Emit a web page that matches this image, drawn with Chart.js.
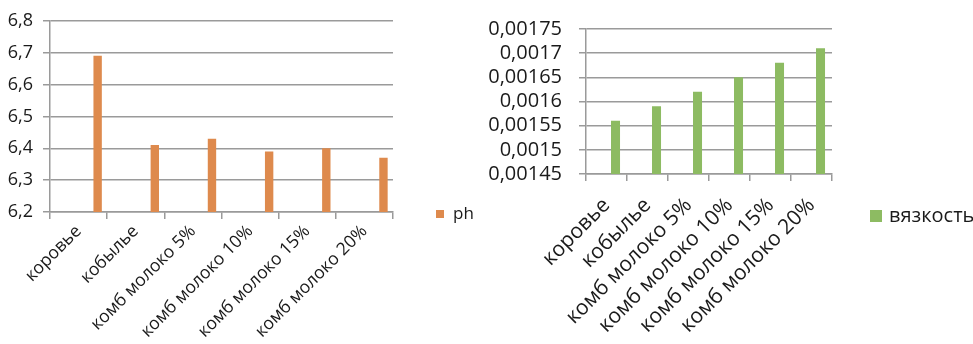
<!DOCTYPE html>
<html>
<head>
<meta charset="utf-8">
<script src="https://cdn.jsdelivr.net/npm/chart.js@4"></script>
<style>
  html, body { margin: 0; padding: 0; background: #fff; }
  #wrap { position: relative; width: 973px; height: 344px; overflow: hidden; }
  .box { position: absolute; top: 0; }
  #phBox { left: 0; width: 480px; height: 380px; }
  #viscBox { left: 480px; width: 493px; height: 344px; }
</style>
</head>
<body>
<div id="wrap">
  <div class="box" id="phBox"><canvas id="phChart"></canvas></div>
  <div class="box" id="viscBox"><canvas id="viscChart"></canvas></div>
</div>
<script>
const categories = ['коровье', 'кобылье', 'комб молоко 5%', 'комб молоко 10%', 'комб молоко 15%', 'комб молоко 20%'];
const phValues = [6.69, 6.41, 6.43, 6.39, 6.40, 6.37];
const viscosityValues = [0.00156, 0.00159, 0.00162, 0.00165, 0.00168, 0.00171];
const phTicks = [6.2, 6.3, 6.4, 6.5, 6.6, 6.7, 6.8];
const viscosityTicks = [0.00145, 0.0015, 0.00155, 0.0016, 0.00165, 0.0017, 0.00175];
// empty series, only there so the real bars sit to the right of each category like in Excel
const spacer = [null, null, null, null, null, null];

const gridColor = '#9a9a9a';
const textColor = '#1a1a1a';
Chart.defaults.font.family = "'Open Sans', sans-serif";
Chart.defaults.color = textColor;

// comma as decimal separator, no trailing zeros
function fmt(v) {
    return String(parseFloat(v.toFixed(6))).replace('.', ',');
}

// legend block to the right, below the middle (as in the original)
const sideLegend = {
    id: 'sideLegend',
    afterDraw(chart, args, opts) {
        const ds = chart.data.datasets[opts.datasetIndex];
        const { ctx, chartArea } = chart;
        const x = chartArea.right + opts.dx;
        const y = chartArea.bottom + opts.dy;
        ctx.save();
        ctx.fillStyle = ds.backgroundColor;
        ctx.fillRect(x, y - opts.box / 2, opts.box, opts.box);
        ctx.fillStyle = textColor;
        ctx.font = opts.size + "px 'Open Sans', sans-serif";
        ctx.textBaseline = 'middle';
        ctx.fillText(ds.label, x + opts.box + opts.gap, y);
        ctx.restore();
    }
};

function axes(ticksList, yFont, xFont, yWidth, xHeight, yPad, xPad) {
    return {
        x: {
            grid: { drawOnChartArea: false, color: gridColor, lineWidth: 1.5, tickLength: 7, offset: true },
            border: { color: gridColor, width: 1.5 },
            ticks: { maxRotation: 45, minRotation: 45, autoSkip: false, font: { size: xFont }, padding: xPad },
            afterFit: s => { s.height = xHeight; }
        },
        y: {
            min: ticksList[0],
            max: ticksList[ticksList.length - 1],
            afterBuildTicks: s => { s.ticks = ticksList.map(v => ({ value: v })); },
            grid: { color: gridColor, lineWidth: 1.5, tickLength: 7 },
            border: { color: gridColor, width: 1.5 },
            ticks: { autoSkip: false, font: { size: yFont }, padding: yPad, callback: v => fmt(v) },
            afterFit: s => { s.width = yWidth; }
        }
    };
}

new Chart(document.getElementById('phChart'), {
    type: 'bar',
    data: {
        labels: categories,
        datasets: [
            { label: '', data: spacer },
            { label: '', data: spacer },
            { label: 'ph', data: phValues, backgroundColor: '#de8a4d' }
        ]
    },
    options: {
        responsive: true,
        maintainAspectRatio: false,
        animation: false,
        datasets: { bar: { categoryPercentage: 1, barPercentage: 0.44 } },
        layout: { padding: { top: 19, right: 87, left: 0, bottom: 0 } },
        scales: axes(phTicks, 18, 17.5, 50, 168, 10, 2),
        plugins: {
            legend: { display: false },
            tooltip: { enabled: false },
            sideLegend: { datasetIndex: 2, dx: 43, dy: 2, box: 8, gap: 9, size: 17 }
        }
    },
    plugins: [sideLegend]
});

new Chart(document.getElementById('viscChart'), {
    type: 'bar',
    data: {
        labels: categories,
        datasets: [
            { label: '', data: spacer },
            { label: 'вязкость', data: viscosityValues, backgroundColor: '#8dbb62' }
        ]
    },
    options: {
        responsive: true,
        maintainAspectRatio: false,
        animation: false,
        datasets: { bar: { categoryPercentage: 0.88, barPercentage: 0.5 } },
        layout: { padding: { top: 21, right: 141, left: 0, bottom: 0 } },
        scales: axes(viscosityTicks, 20, 21, 106, 170, 17, 12),
        plugins: {
            legend: { display: false },
            tooltip: { enabled: false },
            sideLegend: { datasetIndex: 1, dx: 38, dy: 42, box: 12, gap: 7, size: 20 }
        }
    },
    plugins: [sideLegend]
});
</script>
</body>
</html>
